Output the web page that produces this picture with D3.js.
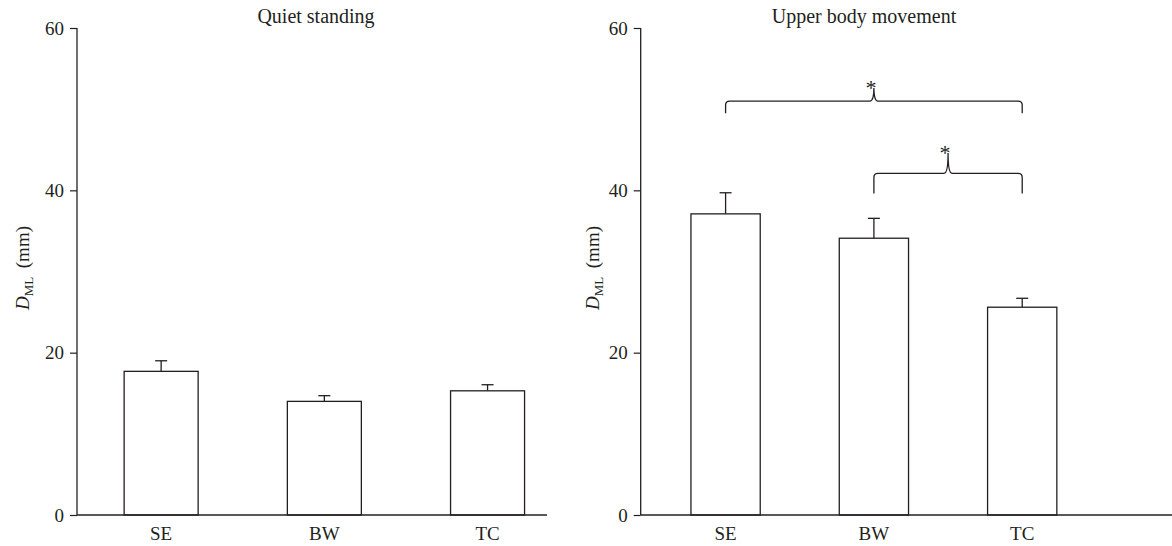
<!DOCTYPE html>
<html><head><meta charset="utf-8">
<script src="https://cdn.jsdelivr.net/npm/d3@7"></script>
<style>
body{margin:0;background:#fff;}
text{font-family:"Liberation Serif","DejaVu Serif",serif;fill:#231f20;}
</style></head>
<body>
<svg id="chart" width="1172" height="546"></svg>
<script>
const categories = ["SE", "BW", "TC"];
const quietMeans = [17.7, 14.0, 15.3];
const quietErrors = [1.3, 0.7, 0.75];
const upperMeans = [37.1, 34.1, 25.6];
const upperErrors = [2.6, 2.45, 1.1];
const yTicks = [0, 20, 40, 60];
const panelTitles = ["Quiet standing", "Upper body movement"];
// significance brackets for upper body panel
const bracketFrom = ["SE", "BW"];
const bracketTo = ["TC", "TC"];
const bracketLevel = [51.0, 42.1];
const bracketEnd = [49.5, 39.6];
const bracketTip = [52.6, 44.6];
const bracketLabel = ["*", "*"];

const svg = d3.select("#chart");
const ink = "#231f20";
const fs = 19;

const panels = [
  {title: panelTitles[0], means: quietMeans, errs: quietErrors, axisX: 77, axisEnd: 547, band: [91.5, 557.2], inner: 0.5466, titleX: 316, labelX: 29, brackets: false},
  {title: panelTitles[1], means: upperMeans, errs: upperErrors, axisX: 640.7, axisEnd: 1172, band: [661.3, 1086.5], inner: 0.533, titleX: 864, labelX: 599, brackets: true}
];

const y = d3.scaleLinear().domain([0, 60]).range([515, 28]);

panels.forEach(p => {
  const g = svg.append("g");
  const x = d3.scaleBand().domain(categories).range(p.band).paddingInner(p.inner).paddingOuter(0.2);

  const ya = g.append("g").attr("transform", `translate(${p.axisX},0)`)
    .call(d3.axisLeft(y).tickValues(yTicks).tickSize(7).tickPadding(6).tickFormat(d3.format("d")));
  ya.select(".domain").remove();
  ya.selectAll("line").attr("stroke", ink).attr("stroke-width", 1.2);
  ya.selectAll("text").attr("font-size", fs).style("font-family", '"Liberation Serif",serif').attr("fill", ink);
  g.append("line").attr("x1", p.axisX).attr("x2", p.axisX).attr("y1", y(60)).attr("y2", y(0))
    .attr("stroke", ink).attr("stroke-width", 1.3);

  categories.forEach((c, i) => {
    const x0 = x(c), w = x.bandwidth(), cx = x0 + w / 2;
    const top = y(p.means[i]), et = y(p.means[i] + p.errs[i]);
    g.append("line").attr("x1", cx).attr("x2", cx).attr("y1", top).attr("y2", et).attr("stroke", ink).attr("stroke-width", 1.3);
    g.append("line").attr("x1", cx - 6).attr("x2", cx + 6).attr("y1", et).attr("y2", et).attr("stroke", ink).attr("stroke-width", 1.3);
    g.append("rect").attr("x", x0).attr("y", top).attr("width", w).attr("height", y(0) - top)
      .attr("fill", "#fff").attr("stroke", ink).attr("stroke-width", 1.3);
    g.append("text").attr("x", cx).attr("y", 540).attr("text-anchor", "middle").attr("font-size", fs).text(c);
  });

  g.append("line").attr("x1", p.axisX).attr("x2", p.axisEnd).attr("y1", y(0)).attr("y2", y(0))
    .attr("stroke", ink).attr("stroke-width", 1.3);

  g.append("text").attr("x", p.titleX).attr("y", 23).attr("text-anchor", "middle").attr("font-size", 20).text(p.title);

  const yl = g.append("text").attr("transform", `translate(${p.labelX},268) rotate(-90)`)
    .attr("text-anchor", "middle").attr("font-size", fs);
  yl.append("tspan").attr("font-style", "italic").text("D");
  yl.append("tspan").attr("font-size", 13).attr("dy", 4).text("ML");
  yl.append("tspan").attr("dy", -4).text("\u2009 (mm)");

  if (p.brackets) {
    bracketFrom.forEach((f, k) => {
      const xa = x(f) + x.bandwidth() / 2, xb = x(bracketTo[k]) + x.bandwidth() / 2;
      const xm = (xa + xb) / 2;
      const yl2 = y(bracketLevel[k]), ye = y(bracketEnd[k]), yt = y(bracketTip[k]);
      const r = 4;
      const path = d3.path();
      path.moveTo(xa, ye);
      path.lineTo(xa, yl2 + r);
      path.quadraticCurveTo(xa, yl2, xa + r, yl2);
      path.lineTo(xm - r, yl2);
      path.quadraticCurveTo(xm, yl2, xm, yt);
      path.quadraticCurveTo(xm, yl2, xm + r, yl2);
      path.lineTo(xb - r, yl2);
      path.quadraticCurveTo(xb, yl2, xb, yl2 + r);
      path.lineTo(xb, ye);
      g.append("path").attr("d", path.toString()).attr("fill", "none").attr("stroke", ink).attr("stroke-width", 1.3);
      g.append("text").attr("x", xm - 3).attr("y", yt + 7).attr("text-anchor", "middle").attr("font-size", 22).text(bracketLabel[k]);
    });
  }
});
</script>
</body></html>
